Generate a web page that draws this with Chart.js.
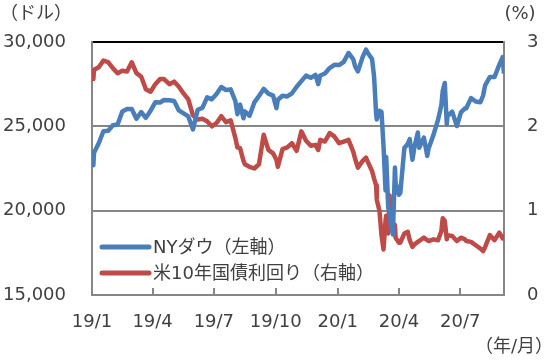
<!DOCTYPE html>
<html><head><meta charset="utf-8">
<script src="https://cdn.jsdelivr.net/npm/chart.js@4.4.1/dist/chart.umd.min.js"></script>
<style>html,body{margin:0;padding:0;background:#fff}#wrap{width:550px;height:360px}</style>
</head><body><div id="wrap"><canvas id="c" width="550" height="360"></canvas></div>
<script>
const dates = [
'2019-01-02','2019-01-03','2019-01-04','2019-01-11','2019-01-18','2019-01-25','2019-02-01','2019-02-08','2019-02-15','2019-02-22',
'2019-03-01','2019-03-08','2019-03-15','2019-03-22','2019-03-29','2019-04-05','2019-04-12','2019-04-18','2019-04-26','2019-05-03',
'2019-05-10','2019-05-17','2019-05-24','2019-05-31','2019-06-07','2019-06-14','2019-06-21','2019-06-28','2019-07-05','2019-07-12',
'2019-07-19','2019-07-26','2019-08-02','2019-08-05','2019-08-09','2019-08-14','2019-08-16','2019-08-23','2019-08-30','2019-09-06',
'2019-09-13','2019-09-20','2019-09-27','2019-10-02','2019-10-04','2019-10-11','2019-10-18','2019-10-25','2019-11-01','2019-11-08',
'2019-11-15','2019-11-22','2019-11-29','2019-12-03','2019-12-06','2019-12-13','2019-12-20','2019-12-27','2020-01-03','2020-01-10',
'2020-01-17','2020-01-24','2020-01-27','2020-01-31','2020-02-07','2020-02-12','2020-02-14','2020-02-21','2020-02-24','2020-02-27',
'2020-02-28','2020-03-03','2020-03-06','2020-03-09','2020-03-12','2020-03-13','2020-03-16','2020-03-18','2020-03-20','2020-03-23',
'2020-03-26','2020-03-27','2020-04-01','2020-04-03','2020-04-09','2020-04-14','2020-04-17','2020-04-21','2020-04-24','2020-04-29',
'2020-05-01','2020-05-08','2020-05-13','2020-05-15','2020-05-22','2020-05-29','2020-06-03','2020-06-05','2020-06-08','2020-06-11',
'2020-06-12','2020-06-19','2020-06-26','2020-07-02','2020-07-08','2020-07-10','2020-07-17','2020-07-24','2020-07-31','2020-08-04',
'2020-08-07','2020-08-14','2020-08-21','2020-08-28','2020-09-02','2020-09-04'];
const dow = [
23346,22686,23433,23996,24706,24737,25064,25106,25883,26031,
26026,25450,25849,25502,25929,26425,26412,26559,26543,26505,
25942,25764,25585,24815,25984,26090,26719,26600,26922,27332,
27154,27192,26485,25718,26287,25479,25886,25629,26403,26797,
27220,26935,26820,26078,26573,26817,26770,26958,27347,27681,
28005,27876,28051,27503,28015,28135,28455,28645,28634,28824,
29348,28990,28535,28256,29102,29551,29398,28992,27961,25767,
25409,25917,25864,23851,21200,23185,20189,19899,19174,18591,
22552,21637,20943,21052,23719,23949,24242,23019,23775,24634,
23724,24331,23248,23685,24465,25383,26270,27111,27572,25128,
25606,25871,25016,25827,26067,26075,26672,26470,26428,26828,
27433,27931,27930,28654,29100,28133];
const yield10y = [
2.66,2.56,2.67,2.70,2.78,2.76,2.69,2.63,2.66,2.65,
2.76,2.63,2.59,2.44,2.41,2.50,2.56,2.56,2.50,2.53,
2.47,2.39,2.32,2.13,2.08,2.09,2.06,2.00,2.04,2.12,
2.05,2.07,1.86,1.75,1.74,1.59,1.55,1.52,1.50,1.55,
1.90,1.72,1.68,1.60,1.52,1.73,1.75,1.80,1.71,1.94,
1.83,1.77,1.78,1.72,1.84,1.82,1.92,1.88,1.80,1.82,
1.84,1.70,1.61,1.51,1.59,1.63,1.59,1.47,1.38,1.30,
1.13,1.00,0.71,0.54,0.88,0.94,0.73,1.18,0.92,0.76,
0.83,0.68,0.62,0.62,0.73,0.75,0.65,0.57,0.60,0.63,
0.64,0.68,0.65,0.64,0.66,0.65,0.76,0.91,0.88,0.66,
0.71,0.70,0.64,0.68,0.66,0.64,0.63,0.59,0.55,0.52,
0.57,0.71,0.65,0.74,0.67,0.72];
const tickDates = ['2019-01-01','2019-04-01','2019-07-01','2019-10-01','2020-01-01','2020-04-01','2020-07-01'];
const tickLabels = ['19/1','19/4','19/7','19/10','20/1','20/4','20/7'];
const seriesNames = ['NYダウ（左軸）','米10年国債利回り（右軸）'];
const leftUnit = '（ドル）', rightUnit = '(%)', xUnit = '（年/月）';

const FONT = '"DejaVu Sans","Noto Sans CJK JP",sans-serif';
const TXT = '#404040', GRID = '#868686';
const dayOf = s => { const [y,m,d] = s.split('-').map(Number); return (Date.UTC(y,m-1,d) - Date.UTC(2019,0,1)) / 86400000; };
const xs = dates.map(dayOf);

const decor = {
  id: 'decor',
  afterDatasetsDraw(chart) {
    const ctx = chart.ctx, a = chart.chartArea, x = chart.scales.x;
    ctx.save();
    ctx.strokeStyle = GRID; ctx.lineWidth = 2;
    tickDates.forEach(d => {
      const px = Math.round(x.getPixelForValue(dayOf(d)));
      ctx.beginPath(); ctx.moveTo(px, a.bottom); ctx.lineTo(px, a.bottom - 7); ctx.stroke();
    });
    ctx.font = '18px ' + FONT; ctx.textBaseline = 'middle'; ctx.textAlign = 'left';
    chart.data.datasets.forEach((ds, i) => {
      const y = a.bottom - 48 + i * 26;
      ctx.strokeStyle = ds.borderColor; ctx.lineWidth = 5; ctx.lineCap = 'round';
      ctx.beginPath(); ctx.moveTo(a.left + 10, y); ctx.lineTo(a.left + 57, y); ctx.stroke();
      ctx.fillStyle = TXT; ctx.fillText(ds.label, a.left + 61, y + 1);
    });
    ctx.textAlign = 'center';
    ctx.fillText(leftUnit, 36, 14);
    ctx.fillText(rightUnit, 520, 14);
    ctx.fillText(xUnit, 514, 347);
    ctx.restore();
  }
};

new Chart(document.getElementById('c'), {
  type: 'line',
  data: {
    datasets: [
      { label: seriesNames[0], data: xs.map((x,i)=>({x, y: dow[i]})), yAxisID: 'y',
        borderColor: '#4A7EBB', borderWidth: 4.5, pointRadius: 0, borderJoinStyle: 'round', tension: 0 },
      { label: seriesNames[1], data: xs.map((x,i)=>({x, y: yield10y[i]})), yAxisID: 'y1',
        borderColor: '#BE4B48', borderWidth: 4.5, pointRadius: 0, borderJoinStyle: 'round', tension: 0 }
    ]
  },
  options: {
    responsive: false, animation: false,
    layout: { padding: { top: 42, left: 0, right: 0, bottom: 0 } },
    plugins: { legend: { display: false }, tooltip: { enabled: false } },
    scales: {
      x: {
        type: 'linear', min: 0, max: dayOf(dates[dates.length-1]),
        afterBuildTicks: s => { s.ticks = tickDates.map(d => ({ value: dayOf(d) })); },
        afterFit: s => { s.height = 65; },
        grid: { display: false, drawTicks: false },
        border: { display: true, color: GRID, width: 2 },
        ticks: { autoSkip: false, maxRotation: 0, padding: 17, color: TXT, font: { family: FONT, size: 18 },
                 callback: (v, i) => tickLabels[i] }
      },
      y: {
        position: 'left', min: 15000, max: 30000,
        ticks: { stepSize: 5000, padding: 26, color: TXT, font: { family: FONT, size: 18 } },
        afterFit: s => { s.width = 92; },
        grid: { drawTicks: false, lineWidth: 2, color: c => c.tick && c.tick.value === 30000 ? '#000' : GRID },
        border: { display: true, color: GRID, width: 2 }
      },
      y1: {
        position: 'right', min: 0, max: 3,
        ticks: { stepSize: 1, padding: 23, color: TXT, font: { family: FONT, size: 18 } },
        afterFit: s => { s.width = 46; },
        grid: { display: false, drawTicks: false },
        border: { display: true, color: GRID, width: 2 }
      }
    }
  },
  plugins: [decor]
});
</script>
</body></html>
